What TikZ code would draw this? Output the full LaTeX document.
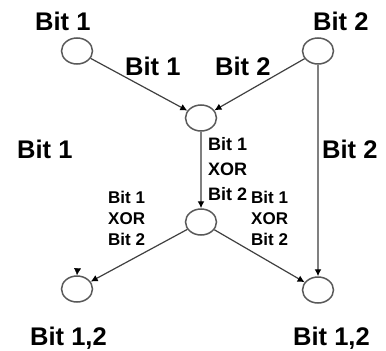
\documentclass[tikz,border=0pt]{standalone}
\usepackage{fontspec}
\setmainfont{Liberation Sans}
\usetikzlibrary{shapes.geometric,arrows.meta}
\begin{document}
\begin{tikzpicture}[x=1pt,y=-1pt,
  bitnode/.style={draw=black!65,line width=1.5pt,ellipse,minimum width=31pt,minimum height=26pt,inner sep=0pt},
  big/.style={font=\fontsize{25.5}{28}\selectfont\bfseries,inner sep=0pt,anchor=base west},
  small/.style={font=\fontsize{18}{25}\selectfont\bfseries,inner sep=0pt,anchor=north west,align=left},
  smaller/.style={font=\fontsize{17}{21}\selectfont\bfseries,inner sep=0pt,anchor=north west,align=left},
  diag/.style={draw=black!75,line width=1.2pt,-{Latex[length=7pt,width=7pt,fill=black,color=black]}},
  vert/.style={draw=black!50,line width=1.4pt,-{Latex[length=7pt,width=7pt,fill=black,color=black]}},
  stub/.style={draw=white,line width=0.4pt,-{Latex[length=7pt,width=7pt,fill=black,color=black]}}
]
\useasboundingbox (0,0) rectangle (386,351);
\fill[white] (0,0) rectangle (386,351);
\node[bitnode] (A) at (77,51) {};
\node[bitnode] (B) at (318,51) {};
\node[bitnode] (C) at (201,118) {};
\node[bitnode] (D) at (201,222) {};
\node[bitnode] (E) at (77,289) {};
\node[bitnode] (F) at (318,290) {};
\coordinate (e0) at (78,262);

\draw[diag] (A) -- (C);
\draw[diag] (B) -- (C);
\draw[vert] (C.south) -- (D.north);
\draw[vert] (B.south) -- (F.north);
\draw[diag] (D) -- (E);
\draw[diag] (D) -- (F);
\draw[stub] (e0) -- (E.north);

\node[big] (t1) at (35,30) {Bit 1};
\node[big] (t2) at (313,30) {Bit 2};
\node[big] (l1) at (125,75) {Bit 1};
\node[big] (l2) at (215,75) {Bit 2};
\node[big] (s1) at (17,158) {Bit 1};
\node[big] (s2) at (322,158) {Bit 2};
\node[small] (x0) at (208,137) {Bit 1\\XOR\\Bit 2};
\node[smaller] (x1) at (108,191) {Bit 1\\XOR\\Bit 2};
\node[smaller] (x2) at (251,191) {Bit 1\\XOR\\Bit 2};
\node[big] (b1) at (30,345) {Bit 1,2};
\node[big] (b2) at (293,345) {Bit 1,2};
\end{tikzpicture}
\end{document}
